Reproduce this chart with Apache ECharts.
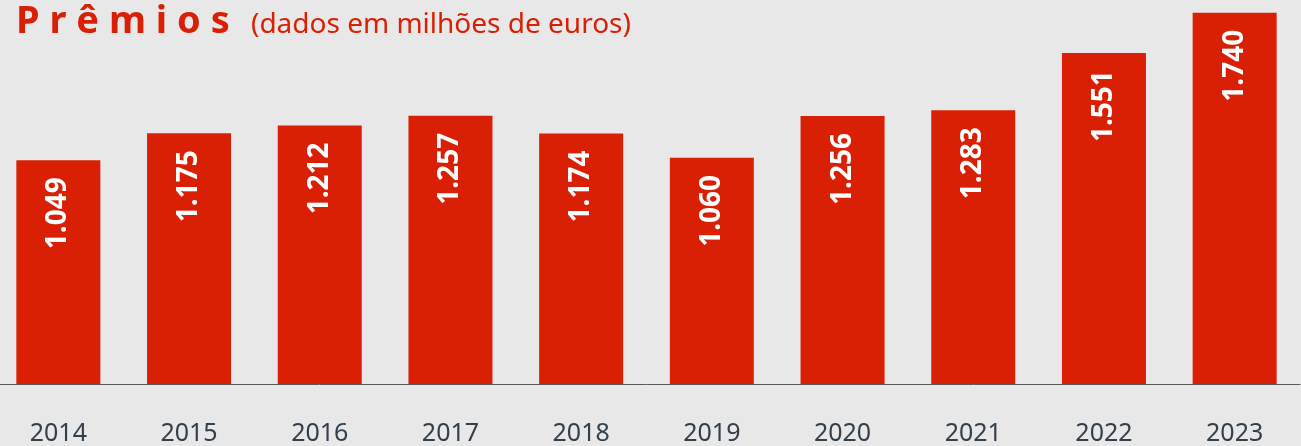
<!DOCTYPE html>
<html>
<head>
<meta charset="utf-8">
<script src="https://cdn.jsdelivr.net/npm/echarts@6/dist/echarts.min.js"></script>
<style>
  html, body { margin: 0; padding: 0; background: #e8e8e8; overflow: hidden; }
  /* o gráfico começa um pouco antes da borda esquerda */
  #chart { width: 1308px; height: 446px; margin-left: -7px; }
</style>
</head>
<body>
<div id="chart"></div>
<script>
// anos
const years = ["2014", "2015", "2016", "2017", "2018", "2019", "2020", "2021", "2022", "2023"];
// prêmios em milhões de euros
const premios = [1049, 1175, 1212, 1257, 1174, 1060, 1256, 1283, 1551, 1740];

const RED = "#d92005";

// 1049 -> "1.049"
const fmt = (v) => {
  const s = String(v);
  return s.length > 3 ? s.slice(0, s.length - 3) + "." + s.slice(-3) : s;
};

const chart = echarts.init(document.getElementById("chart"));

const options = {
  backgroundColor: "#e8e8e8",
  animation: false,
  title: [
    {
      text: "P r ê m i o s",
      left: 23,
      top: 3,
      textStyle: {
        color: RED,
        fontFamily: "Noto Sans",
        fontWeight: "bold",
        fontSize: 38,
        lineHeight: 38,
      },
      padding: 0,
    },
    {
      text: "(dados em milhões de euros)",
      left: 258,
      top: 11,
      textStyle: {
        color: RED,
        fontFamily: "Noto Sans",
        fontWeight: "normal",
        fontSize: 28,
        lineHeight: 28,
      },
      padding: 0,
    },
  ],
  grid: {
    top: 0,
    bottom: 62,
    left: 0,
    right: 1,
  },
  xAxis: {
    type: "category",
    data: years,
    axisTick: { show: false },
    axisLine: {
      lineStyle: { color: "#595959", width: 1 },
    },
    axisLabel: {
      color: "#333f4b",
      fontFamily: "Noto Sans",
      fontSize: 25,
      margin: 37,
    },
  },
  yAxis: {
    type: "value",
    min: 0,
    max: 1800,
    show: false,
    splitLine: { show: false },
  },
  series: [
    {
      type: "bar",
      data: premios,
      barWidth: 84,
      itemStyle: { color: RED },
      label: {
        show: true,
        position: "insideTop",
        rotate: 90,
        align: "right",
        verticalAlign: "middle",
        distance: 17,
        color: "#ffffff",
        fontFamily: "Noto Sans",
        fontWeight: "bold",
        fontSize: 28,
        formatter: (p) => fmt(p.value),
      },
    },
  ],
};

chart.setOption(options);
</script>
</body>
</html>
